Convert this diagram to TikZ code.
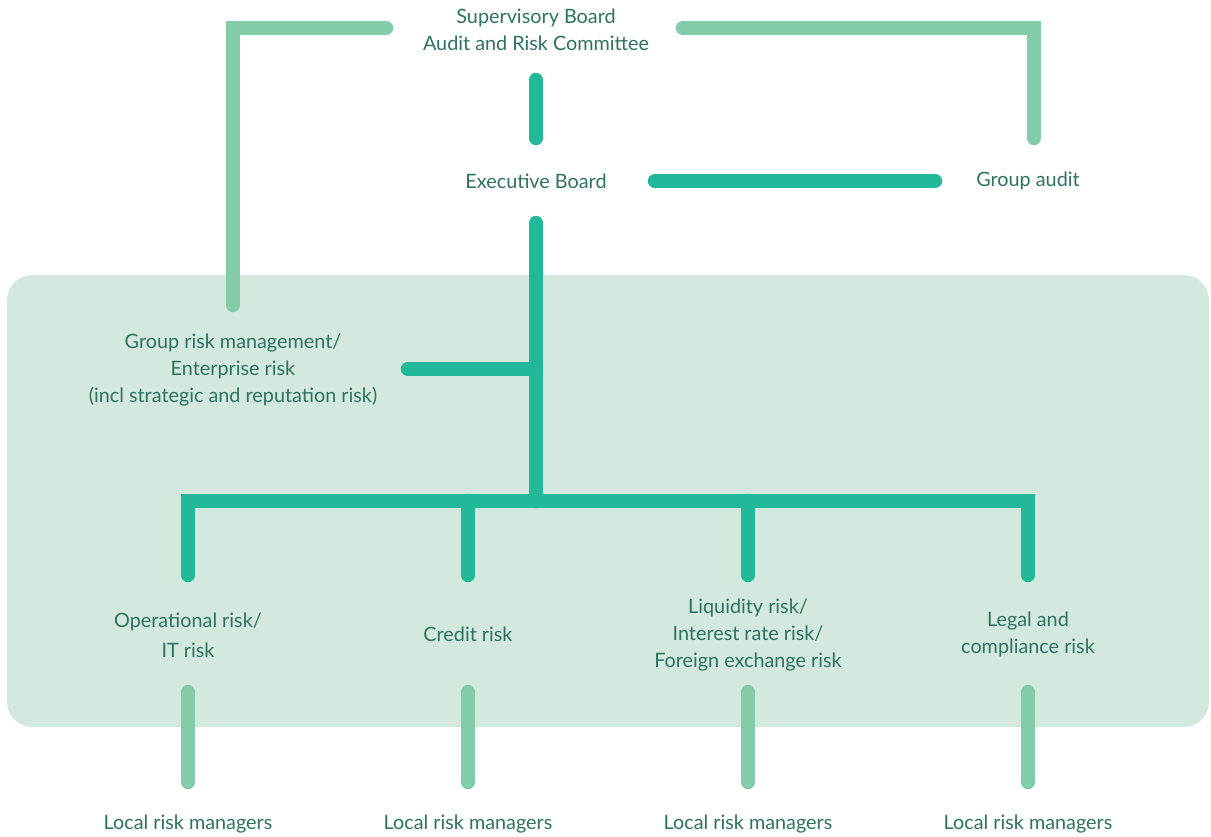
\documentclass[tikz,border=0pt]{standalone}
\usepackage{fontspec}
\setmainfont{Lato}
\definecolor{darkline}{HTML}{21B999}
\definecolor{lightline}{HTML}{83CCA9}
\definecolor{panel}{HTML}{D3E9DD}
\definecolor{labeltext}{HTML}{2E7261}
\tikzset{
  lbl/.style={text=labeltext, font=\fontsize{19.8}{27}\selectfont, align=center, inner sep=0pt},
  mainlink/.style={draw=darkline, line width=14.5pt, line cap=round},
  sidelink/.style={draw=lightline, line width=14.5pt, line cap=round},
}
\begin{document}
\begin{tikzpicture}[x=1pt, y=-1pt]
\useasboundingbox (0,0) rectangle (1211,836);
\fill[panel, rounded corners=25pt] (7,275) rectangle (1209,727);

% labels
\node[lbl] (SB) at (536,30) {Supervisory Board\\Audit and Risk Committee};
\node[lbl] (EB) at (536,181) {Executive Board};
\node[lbl] (GA) at (1028,181) {Group audit};
\node[lbl] (GRM) at (233,370) {Group risk management/\\Enterprise risk\\(incl strategic and reputation risk)};
\node[lbl] (OR) at (188,635) {Operational risk/\\[3pt]IT risk};
\node[lbl] (CR) at (468,634) {Credit risk};
\node[lbl] (LR) at (748,635) {Liquidity risk/\\Interest rate risk/\\Foreign exchange risk};
\node[lbl] (LC) at (1028,634) {Legal and\\compliance risk};
\foreach \x/\n in {188/1,468/2,748/3,1028/4}
  \node[lbl] (LRM\n) at (\x,824) {Local risk managers};

% line ends
\coordinate (sbL) at (386,28);
\coordinate (sbR) at (683,28);
\coordinate (sbB) at (536,80);
\coordinate (ebT) at (536,138);
\coordinate (ebR) at (655,181);
\coordinate (gaL) at (935,181);
\coordinate (gaT) at (1034,138);
\coordinate (grmT) at (233,305);
\coordinate (ebB) at (536,223);
\coordinate (hub) at (536,501);
\coordinate (grmR) at (408,369);
\coordinate (orT) at (188,575);
\coordinate (crT) at (468,575);
\coordinate (lrT) at (748,575);
\coordinate (lcT) at (1028,575);

% connectors
\draw[sidelink] (sbL) -| (grmT);
\draw[sidelink] (sbR) -| (gaT);
\draw[mainlink] (sbB) -- (ebT);
\draw[mainlink] (ebR) -- (gaL);
\draw[mainlink] (ebB) -- (hub);
\draw[mainlink] (grmR) -- (grmR -| hub);
\draw[mainlink] (orT) |- (hub) -| (lcT);
\draw[mainlink] (crT) -- (crT |- hub);
\draw[mainlink] (lrT) -- (lrT |- hub);
\foreach \x/\n in {188/1,468/2,748/3,1028/4}{
  \coordinate (up\n) at (\x,692);
  \coordinate (dn\n) at (\x,782);
  \draw[sidelink] (up\n) -- (dn\n);
}
\end{tikzpicture}
\end{document}
